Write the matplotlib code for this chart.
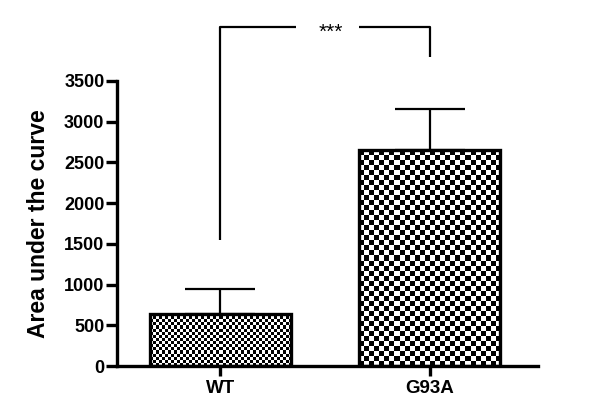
import numpy as np
import matplotlib
matplotlib.use("Agg")
import matplotlib.pyplot as plt

# --- Data ---
groups = ["WT", "G93A"]
auc_mean = [640, 2650]
auc_sem = [300, 500]
checker_px = [3, 5]          # checker cell size in pixels for each bar
sig_label = "***"
bracket_left_y = 1550        # bottom of bracket arm above WT
bracket_right_y = 3800       # bottom of bracket arm above G93A
bracket_top_y = 4160
yticks = [0, 500, 1000, 1500, 2000, 2500, 3000, 3500]

plt.rcParams["font.family"] = ["Liberation Sans", "DejaVu Sans"]

fig = plt.figure(figsize=(6, 4.17), dpi=100)
ax = fig.add_axes([0.195, 0.1223, 0.702, 0.6835])

x = np.arange(len(groups))
bars = ax.bar(x, auc_mean, width=0.676, facecolor="none", edgecolor="black",
              linewidth=2.4, zorder=3)
ax.errorbar(x, auc_mean, yerr=[[0, 0], auc_sem], fmt="none", ecolor="black",
            elinewidth=1.6, capsize=25, capthick=1.6, zorder=2)

ax.set_xlim(-0.495, 1.52)
ax.set_ylim(0, 3500)

# checkerboard fill clipped to each bar
fig.canvas.draw()
for bar, cell in zip(bars, checker_px):
    bb = bar.get_window_extent()
    nx = max(int(round(bb.width / cell)), 1)
    ny = max(int(round(bb.height / cell)), 1)
    board = (np.indices((ny, nx)).sum(axis=0) % 2).astype(float)
    im = ax.imshow(board, cmap="gray", interpolation="nearest", aspect="auto",
                   extent=[bar.get_x(), bar.get_x() + bar.get_width(), 0, bar.get_height()],
                   zorder=2.5)
    im.set_clip_path(bar)
ax.set_xlim(-0.495, 1.52)
ax.set_ylim(0, 3500)

ax.set_xticks(x)
ax.set_xticklabels(groups, fontsize=13.5, fontweight="bold")
ax.set_yticks(yticks)
ax.set_yticklabels([str(t) for t in yticks], fontsize=13, fontweight="bold")
ax.set_ylabel("Area under the curve", fontsize=16.5, fontweight="bold", labelpad=10)

for side in ["top", "right"]:
    ax.spines[side].set_visible(False)
for side in ["left", "bottom"]:
    ax.spines[side].set_linewidth(2.4)
ax.tick_params(axis="y", direction="out", length=8, width=2.4, pad=1)
ax.tick_params(axis="x", direction="out", length=7, width=2.4, pad=3)

# significance bracket
kw = dict(color="black", linewidth=1.6, clip_on=False, solid_capstyle="butt")
ax.plot([x[0], x[0], 0.36], [bracket_left_y, bracket_top_y, bracket_top_y], **kw)
ax.plot([0.665, x[1], x[1]], [bracket_top_y, bracket_top_y, bracket_right_y], **kw)
ax.text(0.53, bracket_top_y - 60, sig_label, ha="center", va="center", fontsize=15)

fig.savefig("out.png", dpi=100)
